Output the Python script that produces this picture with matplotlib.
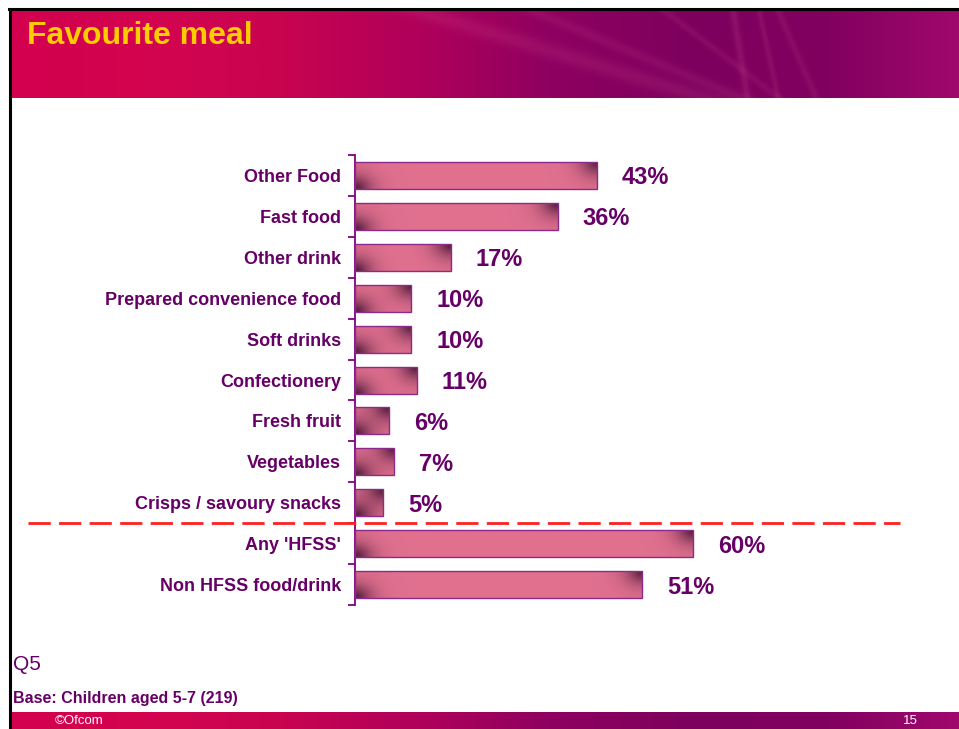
import numpy as np
import matplotlib
matplotlib.use("Agg")
import matplotlib.pyplot as plt
from matplotlib.colors import LinearSegmentedColormap

categories = ["Other Food", "Fast food", "Other drink", "Prepared convenience food",
              "Soft drinks", "Confectionery", "Fresh fruit", "Vegetables",
              "Crisps / savoury snacks", "Any 'HFSS'", "Non HFSS food/drink"]
values = [43, 36, 17, 10, 10, 11, 6, 7, 5, 60, 51]
value_labels = ["43%", "36%", "17%", "10%", "10%", "11%", "6%", "7%", "5%", "60%", "51%"]

W, H = 959, 729
PURPLE = "#660066"
FONT = ["Liberation Sans", "DejaVu Sans"]

fig = plt.figure(figsize=(W / 100, H / 100), dpi=100)
fig.patch.set_facecolor("white")

def fx(px):
    return px / W

def fy(py):
    return 1 - py / H

band_cmap = LinearSegmentedColormap.from_list(
    "band", ["#d2004e", "#d4044f", "#c80450", "#b0005a", "#8e0060", "#7e005e", "#80005f", "#a0086e"])

def band(top, bottom, streaks=True):
    bax = fig.add_axes([fx(10), fy(bottom), fx(W - 10), (bottom - top) / H])
    bax.set_axis_off()
    nx, ny = 500, 80
    x = np.linspace(0, 1, nx)
    y = np.linspace(0, 1, ny)
    X, Y = np.meshgrid(x, y)
    img = band_cmap(X)[:, :, :3]
    if streaks:
        for cx, slope, w, a0 in [(0.58, 0.30, 0.03, 0.10), (0.66, 0.22, 0.015, 0.08),
                                 (0.77, 0.015, 0.004, 0.12), (0.80, 0.02, 0.003, 0.10),
                                 (0.83, 0.04, 0.004, 0.09), (0.75, 0.12, 0.006, 0.08)]:
            d = np.abs(X - (cx + slope * (Y - 0.5)))
            a = a0 * np.exp(-(d / w) ** 2)
            img = img * (1 - a[..., None]) + a[..., None] * np.array([1, 0.55, 0.7])
    bax.imshow(img, aspect="auto", extent=[0, 1, 0, 1], interpolation="bilinear")
    bax.set_xlim(0, 1)
    bax.set_ylim(0, 1)
    return bax

band(10, 98)
band(712, 729, streaks=False)

fig.add_artist(plt.Line2D([fx(9), 1], [fy(9), fy(9)], color="black", lw=2.2, transform=fig.transFigure))
fig.add_artist(plt.Line2D([fx(10), fx(10)], [fy(9), fy(729)], color="black", lw=2.2, transform=fig.transFigure))

fig.text(fx(27), fy(36), "Favourite meal", color="#ffcc00", fontsize=23, fontweight="bold",
         family=FONT, va="center", ha="left")

ax = fig.add_axes([fx(355), fy(605), (918 - 355) / W, (605 - 155) / H])
n = len(categories)
ypos = np.arange(n)
ax.set_xlim(0, 100)
ax.set_ylim(n - 0.5, -0.5)

bars = ax.barh(ypos, values, height=0.66, facecolor="none", edgecolor="#8a2a8a", linewidth=1.0, zorder=3)

light = np.array([0.88, 0.44, 0.56])
dark = np.array([0.33, 0.11, 0.24])
for bar, v in zip(bars, values):
    x0, y0 = bar.get_x(), bar.get_y()
    w, h = bar.get_width(), bar.get_height()
    p0 = ax.transData.transform((x0, y0 + h))
    p1 = ax.transData.transform((x0 + w, y0))
    wpx = abs(p1[0] - p0[0])
    hpx = abs(p1[1] - p0[1])
    nx = max(int(wpx), 2)
    ny = max(int(hpx), 2)
    xx = np.linspace(0, wpx, nx)
    yy = np.linspace(0, hpx, ny)  # 0 = top row
    X, Y = np.meshgrid(xx, yy)
    d1 = np.hypot(X, (hpx - Y) * 1.2)
    d2 = np.hypot(wpx - X, Y * 1.2)
    dk = np.clip(np.exp(-(d1 / 16.0) ** 1.5) * 1.0 + np.exp(-(d2 / 16.0) ** 1.5) * 0.95, 0, 1)
    img = light * (1 - dk[..., None]) + dark * dk[..., None]
    im = ax.imshow(img, extent=[x0, x0 + w, y0 + h, y0], aspect="auto",
                   interpolation="bilinear", zorder=2)
    im.set_clip_path(bar)

ax.set_xlim(0, 100)
ax.set_ylim(n - 0.5, -0.5)

for yv, v, lab in zip(ypos, values, value_labels):
    ax.annotate(lab, (v, yv), xytext=(18, 0), textcoords="offset points",
                va="center_baseline", ha="left", color=PURPLE, fontsize=17, fontweight="bold",
                family=FONT)

for s in ["top", "right", "bottom"]:
    ax.spines[s].set_visible(False)
ax.spines["left"].set_color("#800080")
ax.spines["left"].set_linewidth(1.3)
ax.patch.set_alpha(0)
ax.set_xticks([])
ax.set_yticks(ypos)
ax.set_yticklabels(categories, fontsize=13, fontweight="bold", color=PURPLE, family=FONT,
                   va="center_baseline")
ax.tick_params(axis="y", which="major", length=0, pad=10)
ax.set_yticks(np.arange(-0.5, n, 1.0), minor=True)
ax.tick_params(axis="y", which="minor", length=5, width=1.3, color="#800080", direction="out")

ax.plot([-58, 96.8], [8.5, 8.5], color="#ff2020", lw=2, dashes=(8, 3), clip_on=False, zorder=5)

fig.text(fx(13), fy(665), "Q5", color=PURPLE, fontsize=15, family=FONT, va="center", ha="left")
fig.text(fx(13), fy(698), "Base: Children aged 5-7 (219)", color=PURPLE, fontsize=11.5,
         fontweight="bold", family=FONT, va="center", ha="left")
fig.text(fx(55), fy(721), "©Ofcom", color="white", fontsize=9.5, family=FONT, va="center", ha="left")
fig.text(fx(910), fy(721), "15", color="white", fontsize=9.5, family=FONT, va="center", ha="center")

fig.savefig("out.png", dpi=100, facecolor="white")
